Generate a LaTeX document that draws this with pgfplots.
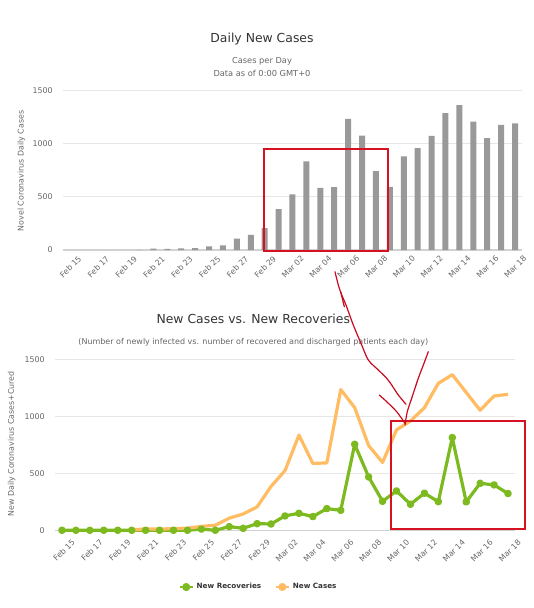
\documentclass[border=0pt]{standalone}
\usepackage{pgfplots}
\pgfplotsset{compat=1.18}
\usepackage{pgfplotstable}
\usepackage{fontspec}
\setmainfont{DejaVu Sans}
\definecolor{txt}{HTML}{333333}
\definecolor{sub}{HTML}{666666}
\definecolor{gridc}{HTML}{E6E6E6}
\definecolor{bargray}{HTML}{999999}
\definecolor{recgreen}{RGB}{124,186,32}
\definecolor{caseorange}{RGB}{255,188,98}
\definecolor{annred}{RGB}{214,18,32}
\definecolor{penred}{RGB}{200,10,30}

\pgfplotstableread{
i cases rec
0 nan 0
1 nan 0
2 nan 0
3 nan 0
4 nan 0
5 2 0
6 13 0
7 10 0
8 15 0
9 18 0
10 34 10
11 44 0
12 106 32
13 143 17
14 205 58
15 385 55
16 523 126
17 835 149
18 586 120
19 591 190
20 1234 175
21 1076 754
22 743 468
23 595 254
24 881 345
25 958 228
26 1075 325
27 1289 251
28 1365 813
29 1209 249
30 1053 412
31 1178 398
32 1192 322
}\data

\pgfplotsset{
  hc/.style={
    scale only axis,
    xmin=-0.5, xmax=32.5, ymin=0, ymax=1500,
    ytick={0,500,1000,1500},
    xtick={0,2,...,32},
    xticklabels={Feb 15,Feb 17,Feb 19,Feb 21,Feb 23,Feb 25,Feb 27,Feb 29,Mar 02,Mar 04,Mar 06,Mar 08,Mar 10,Mar 12,Mar 14,Mar 16,Mar 18},
    axis x line*=bottom, axis y line*=left,
    y axis line style={draw=none},
    x axis line style={draw=gray!35, line width=0.8pt},
    major tick length=0pt,
    ymajorgrids, grid style={gridc, line width=0.6pt},
    tick label style={font=\fontsize{5.9}{7}\selectfont, text=sub},
    /pgf/number format/1000 sep={},
    /pgf/number format/assume math mode=true,
    yticklabel style={anchor=east, inner sep=0pt, xshift=-7.5pt},
    xticklabel style={rotate=45, anchor=north east, inner sep=0pt},
  }
}

\begin{document}
\begin{tikzpicture}
\path[use as bounding box] (0,0) rectangle (399.75pt,456pt);

\begin{axis}[hc, at={(47.25pt,268.5pt)}, anchor=south west,
  width=344.25pt, height=119.5pt,
  xticklabel style={xshift=1.5pt, yshift=-6.75pt}]
\addplot[ybar, bar width=4.5pt, fill=bargray, draw=none] table[x=i,y=cases]{\data};
\end{axis}

\begin{axis}[hc, at={(41.25pt,58.3pt)}, anchor=south west,
  width=345pt, height=128.25pt, clip=false,
  xticklabel style={xshift=0.5pt, yshift=-9.3pt},
  legend style={at={(0.443,-0.332)}, anchor=center, legend columns=2, draw=none, fill=none,
    font=\fontsize{5.4}{6.5}\selectfont\bfseries, text=txt,
    /tikz/every even column/.append style={column sep=8pt}},
  legend image code/.code={\draw[#1, line width=2pt, mark=none] (0pt,0pt) -- (9.75pt,0pt);
     \fill[#1] (4.9pt,0pt) circle (1.8pt);}]
\addplot[recgreen, line width=2.4pt, line join=round, mark=*, mark size=1.6pt,
  mark options={draw=none, fill=recgreen}] table[x=i,y=rec]{\data};
\addlegendentry{New Recoveries}
\addplot[caseorange, line width=2.4pt, line join=round, mark=none] table[x=i,y=cases]{\data};
\addlegendentry{New Cases}
\end{axis}

\begin{scope}[shift={(0pt,456pt)}, x=0.75pt, y=-0.75pt]
  % titles
  \node[text=txt, font=\fontsize{9.3}{11}\selectfont] at (262,39) {Daily New Cases};
  \node[text=sub, font=\fontsize{6.2}{7.5}\selectfont] at (262,61.7) {Cases per Day};
  \node[text=sub, font=\fontsize{6.2}{7.5}\selectfont] at (262,73.3) {Data as of 0:00 GMT+0};
  \node[text=sub, font=\fontsize{5.9}{7}\selectfont, rotate=90, inner sep=0pt] at (21.5,171) {Novel Coronavirus Daily Cases};
  \node[text=txt, font=\fontsize{9.3}{11}\selectfont] at (253.3,319.3) {New Cases vs. New Recoveries};
  \node[text=sub, font=\fontsize{6}{7.5}\selectfont] at (253.3,342) {(Number of newly infected vs. number of recovered and discharged patients each day)};
  \node[text=sub, font=\fontsize{5.9}{7}\selectfont, rotate=90, inner sep=0pt] at (11.7,444) {New Daily Coronavirus Cases+Cured};
  % red boxes
  \draw[annred, line width=1.5pt] (264,149) rectangle (388,251.5);
  \draw[annred, line width=1.5pt] (391,420.7) rectangle (524.7,529.5);
  % hand-drawn strokes
  \draw[penred, line width=0.9pt, line cap=round] plot[smooth] coordinates {(335,271.7) (338.3,285) (341.7,295) (346,305) (353.3,325) (361.7,345) (368.3,360) (378.3,370) (386.7,378.3) (391.7,385) (398.3,395) (406,404.3)};
  \draw[penred, line width=0.9pt, line cap=round] (340.7,291.7) -- (344.3,306.7);
  \draw[penred, line width=0.9pt, line cap=round] plot[smooth] coordinates {(379.3,395) (386.7,401.7) (396.7,411.7) (405,423.3)};
  \draw[penred, line width=0.9pt, line cap=round] plot[smooth] coordinates {(405,425) (407.3,411.7) (411.7,398.3) (418.3,378.3) (424,363.3) (428.3,351.7)};
\end{scope}
\end{tikzpicture}
\end{document}
